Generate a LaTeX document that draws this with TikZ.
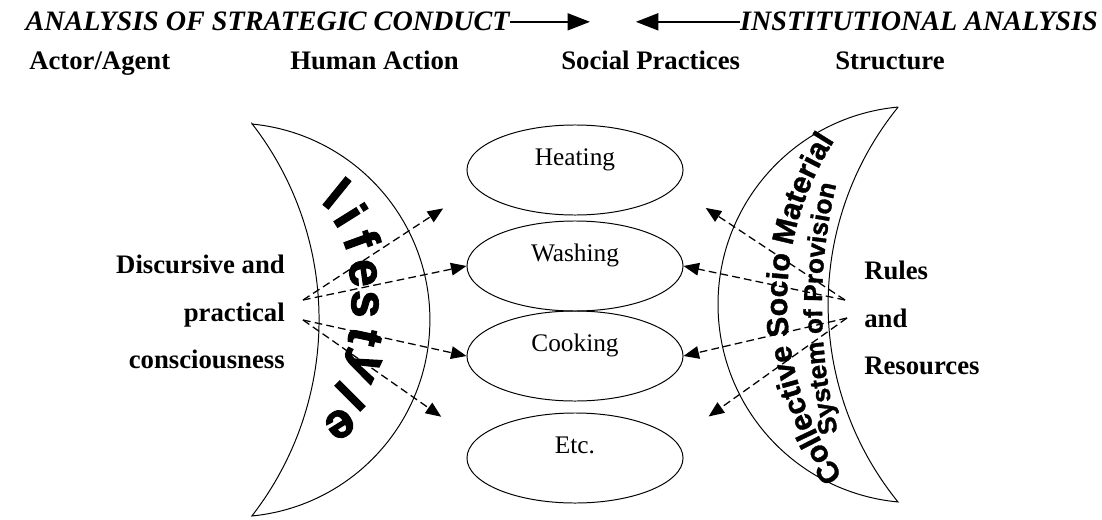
\documentclass[tikz,border=0pt]{standalone}
\usepackage{fontspec}
\setmainfont{Liberation Serif}
\newfontfamily\wordart{Liberation Sans}[UprightFont={* Bold}, FakeBold=1.2]
\newfontfamily\wordblack{Liberation Sans}[UprightFont={* Bold}, FakeBold=2.5]
\usepackage{tikz}
\usetikzlibrary{arrows.meta, shapes.geometric, decorations.text, positioning}
\tikzstyle{practice} = [draw, ellipse, line width=0.7pt, minimum width=5.4cm, minimum height=2.25cm, inner sep=0pt, text height=10pt, text depth=16pt, font=\fontsize{18}{20}\selectfont]
\tikzstyle{boldtext} = [inner sep=0pt, font=\bfseries\fontsize{19}{33.8}\selectfont]
\tikzstyle{headtext} = [inner sep=0pt, font=\bfseries\itshape\fontsize{20}{22}\selectfont]
\tikzstyle{crescent} = [draw, line width=0.7pt]
\tikzstyle{lsletter} = [inner sep=0pt, font=\wordblack\fontsize{35}{35}\selectfont]
\tikzstyle{arrow} = [line width=0.9pt, dash pattern=on 5.5pt off 3pt, -{Triangle[length=11pt, width=9pt]}]
\tikzstyle{bigarrow} = [line width=1.6pt, -{Triangle[length=16pt, width=12pt]}]

\begin{document}
\begin{tikzpicture}[x=0.025cm, y=-0.025cm]
	\useasboundingbox (0, 0) rectangle (1102, 519);

	\node[headtext, anchor=base east](strategic) at (510, 31){ANALYSIS OF STRATEGIC CONDUCT};
	\node[headtext, anchor=base east](institutional) at (1098, 31){INSTITUTIONAL ANALYSIS};
	\coordinate[right=2cm of strategic.east](strategictip);
	\coordinate[left=2.6cm of institutional.west](institutionaltip);
	\draw[bigarrow](strategic.east) -- (strategictip);
	\draw[bigarrow](institutional.west) -- (institutionaltip);

	\node[boldtext, anchor=base west](actor) at (29, 70){Actor/Agent};
	\node[boldtext, anchor=base west](action) at (290, 70){Human Action};
	\node[boldtext, anchor=base west](practices) at (561, 70){Social Practices};
	\node[boldtext, anchor=base west](structure) at (835, 70){Structure};

	\draw[crescent](233, 320) ++(-84.5:196.9) arc[start angle=-84.5, end angle=84.5, radius=196.9]
		arc[start angle=37.8, end angle=-37.8, radius=320.2] -- cycle;
	\draw[crescent](916.3, 304.5) ++(264.7:198.3) arc[start angle=264.7, end angle=95.3, radius=198.3]
		arc[start angle=141, end angle=219, radius=313.6] -- cycle;

	\foreach \ch/\px/\py/\rot [count=\n] in {l/337/193/-39, i/351/215/-58, f/362/240/-70, e/363/273/-82,
		s/365/304/-92, t/365/337/-102, y/360/365/-115, l/350/396/-135, e/340/424/-148}
		\node[lsletter, rotate=\rot](lifestyle\n) at (\px, \py){\ch};

	\path[decorate, decoration={text along path, text align=left,
		text={|\wordart\fontsize{21.5}{21.5}\selectfont|Collective Socio Material}}]
		(1085, 302) ++(144.3:298) arc[start angle=144.3, end angle=218, radius=298];
	\path[decorate, decoration={text along path, text align=left,
		text={|\wordart\fontsize{18.5}{18.5}\selectfont|System of Provision}}]
		(1337, 305) ++(165.7:515) arc[start angle=165.7, end angle=194.3, radius=515];

	\node[practice](heating) at (575, 170){Heating};
	\node[practice](washing) at (575, 266){Washing};
	\node[practice](cooking) at (575, 356){Cooking};
	\node[practice](etc) at (575, 458){Etc.};

	\node[boldtext, align=right, anchor=east](consciousness) at (285, 312){Discursive and\\practical\\consciousness};
	\node[boldtext, align=left, anchor=west](rules) at (864, 318){Rules\\and\\Resources};

	\coordinate (consciousup) at (303, 300);
	\coordinate (consciousdown) at (303, 320);
	\coordinate (rulesup) at (845, 300);
	\coordinate (rulesdown) at (847, 318);

	\draw[arrow, shorten >=0.95cm](consciousup) -- (heating.190);
	\draw[arrow](consciousup) -- (washing.west);
	\draw[arrow](consciousdown) -- (cooking.west);
	\draw[arrow, shorten >=1.03cm](consciousdown) -- (etc.170);
	\draw[arrow, shorten >=0.92cm](rulesup) -- (heating.350);
	\draw[arrow](rulesup) -- (washing.east);
	\draw[arrow](rulesdown) -- (cooking.east);
	\draw[arrow, shorten >=1.03cm](rulesdown) -- (etc.10);
\end{tikzpicture}
\end{document}
